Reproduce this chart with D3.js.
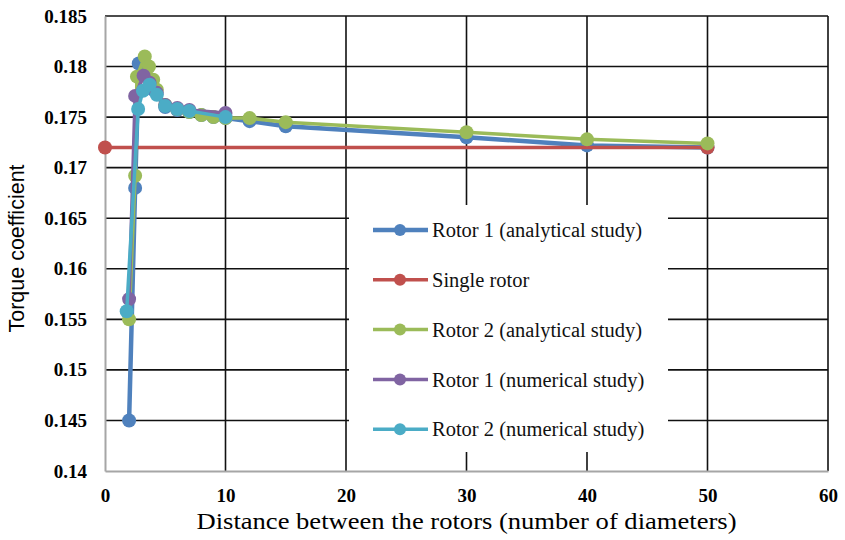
<!DOCTYPE html>
<html>
<head>
<meta charset="utf-8">
<script src="https://cdn.jsdelivr.net/npm/d3@7"></script>
<style>
  body { margin: 0; background: #fff; }
  svg { display: block; }
  .serif { font-family: 'Times New Roman', Times, 'Liberation Serif', 'DejaVu Serif', serif; }
  .sans { font-family: 'Liberation Sans', Arial, sans-serif; }
</style>
</head>
<body>
<div id="chart"></div>
<script>
// chart values
const xTicks = [0, 10, 20, 30, 40, 50, 60];
const yTicks = [0.14, 0.145, 0.15, 0.155, 0.16, 0.165, 0.17, 0.175, 0.18, 0.185];
const yTickLabels = ['0.14', '0.145', '0.15', '0.155', '0.16', '0.165', '0.17', '0.175', '0.18', '0.185'];

const seriesNames = [
    'Rotor 1 (analytical study)',
    'Single rotor',
    'Rotor 2 (analytical study)',
    'Rotor 1 (numerical study)',
    'Rotor 2 (numerical study)',
];
const seriesColors = ['#4f81bd', '#c0504d', '#9bbb59', '#8064a2', '#4bacc6'];

const rotor1Analytical = [
    [2, 0.145], [2.5, 0.168], [2.8, 0.1803], [3.3, 0.1800], [4, 0.1777], [5, 0.1760],
    [6, 0.1757], [7, 0.1755], [8, 0.1752], [9, 0.1750], [10, 0.1749], [12, 0.1746],
    [15, 0.1741], [30, 0.1730], [40, 0.1722], [50, 0.1720],
];
const singleRotor = [[0, 0.172], [50, 0.172]];
const rotor2Analytical = [
    [2, 0.155], [2.5, 0.1692], [2.65, 0.179], [3.3, 0.181], [3.65, 0.180], [4, 0.1787],
    [4.3, 0.1777], [5, 0.1762], [6, 0.1758], [7, 0.1755], [8, 0.1752], [9, 0.1750],
    [10, 0.1749], [12, 0.1749], [15, 0.1745], [30, 0.1735], [40, 0.1728], [50, 0.1724],
];
const rotor1Numerical = [
    [2, 0.157], [2.5, 0.1771], [3.2, 0.1791], [3.7, 0.1784], [4.3, 0.1774], [5, 0.1762],
    [6, 0.1759], [7, 0.1757], [10, 0.1754],
];
const rotor2Numerical = [
    [1.8, 0.1558], [2.75, 0.1758], [3.15, 0.1776], [3.7, 0.1782], [4.3, 0.1772], [5, 0.1761],
    [6, 0.1758], [7, 0.1756], [10, 0.1750],
];
const allSeries = [rotor1Analytical, singleRotor, rotor2Analytical, rotor1Numerical, rotor2Numerical];

const width = 845;
const height = 540;
const margin = { top: 16, right: 17, bottom: 69, left: 105 };

const svg = d3.select('#chart')
    .append('svg')
    .attr('width', width)
    .attr('height', height);

const xScale = d3.scaleLinear().domain([0, 60]).range([margin.left, width - margin.right]);
const yScale = d3.scaleLinear().domain([0.14, 0.185]).range([height - margin.bottom, margin.top]);

// gridlines (black) behind everything
const grid = svg.append('g').attr('class', 'grid');
grid.selectAll('line.h')
    .data(yTicks.filter((d) => d > 0.14))
    .join('line')
    .attr('x1', xScale(0)).attr('x2', xScale(60))
    .attr('y1', (d) => yScale(d)).attr('y2', (d) => yScale(d))
    .attr('stroke', '#111').attr('stroke-width', 1.6);
grid.selectAll('line.v')
    .data(xTicks.filter((d) => d > 0))
    .join('line')
    .attr('y1', yScale(0.14)).attr('y2', yScale(0.185))
    .attr('x1', (d) => xScale(d)).attr('x2', (d) => xScale(d))
    .attr('stroke', '#111').attr('stroke-width', 1.6);

// axes: gray lines, bold labels
const yAxis = svg.append('g')
    .attr('transform', `translate(${margin.left},0)`)
    .call(d3.axisLeft(yScale).tickValues(yTicks).tickSize(0).tickPadding(18)
        .tickFormat((d, i) => yTickLabels[i]));
yAxis.attr('font-family', null);
yAxis.select('.domain').attr('stroke', '#a6a6a6').attr('stroke-width', 2);
yAxis.selectAll('text')
    .attr('class', 'serif')
    .attr('font-weight', 'bold').attr('font-size', 19).attr('fill', '#000');

const xAxis = svg.append('g')
    .attr('transform', `translate(0,${yScale(0.14)})`)
    .call(d3.axisBottom(xScale).tickValues(xTicks).tickSize(0).tickPadding(18));
xAxis.attr('font-family', null);
xAxis.select('.domain').attr('stroke', '#a6a6a6').attr('stroke-width', 2);
xAxis.selectAll('text')
    .attr('class', 'serif')
    .attr('font-weight', 'bold').attr('font-size', 19).attr('fill', '#000');

// axis titles
svg.append('text')
    .attr('class', 'serif')
    .attr('x', (xScale(0) + xScale(60)) / 2)
    .attr('y', 529)
    .attr('text-anchor', 'middle')
    .attr('font-size', 23)
    .attr('textLength', 540)
    .attr('lengthAdjust', 'spacingAndGlyphs')
    .text('Distance between the rotors (number of diameters)');

svg.append('text')
    .attr('class', 'sans')
    .attr('transform', `translate(24,${(yScale(0.14) + yScale(0.185)) / 2 + 5}) rotate(-90)`)
    .attr('text-anchor', 'middle')
    .attr('font-size', 21.5)
    .text('Torque coefficient');

// series lines and dots, later series drawn on top
const line = d3.line().x((d) => xScale(d[0])).y((d) => yScale(d[1]));
allSeries.forEach((data, i) => {
    const g = svg.append('g').attr('class', 'series');
    g.append('path')
        .datum(data)
        .attr('d', line)
        .attr('fill', 'none')
        .attr('stroke', seriesColors[i])
        .attr('stroke-width', i === 0 ? 4.5 : 3.5)
        .attr('stroke-linejoin', 'round');
    g.selectAll('circle')
        .data(data)
        .join('circle')
        .attr('cx', (d) => xScale(d[0]))
        .attr('cy', (d) => yScale(d[1]))
        .attr('r', 7)
        .attr('fill', seriesColors[i]);
});

// legend box on top of gridlines
const legend = svg.append('g').attr('class', 'legend');
legend.append('rect')
    .attr('x', 349).attr('y', 205)
    .attr('width', 319).attr('height', 247)
    .attr('fill', '#fff');
seriesNames.forEach((name, i) => {
    const cy = 230 + i * 49.8;
    legend.append('line')
        .attr('x1', 373).attr('x2', 428)
        .attr('y1', cy).attr('y2', cy)
        .attr('stroke', seriesColors[i])
        .attr('stroke-width', i === 0 ? 4.5 : 3.5);
    legend.append('circle')
        .attr('cx', 400).attr('cy', cy).attr('r', 6)
        .attr('fill', seriesColors[i]);
    legend.append('text')
        .attr('class', 'serif')
        .attr('x', 432).attr('y', cy)
        .attr('dy', '0.35em')
        .attr('font-size', 20.5)
        .attr('fill', '#111')
        .text(name);
});
</script>
</body>
</html>
